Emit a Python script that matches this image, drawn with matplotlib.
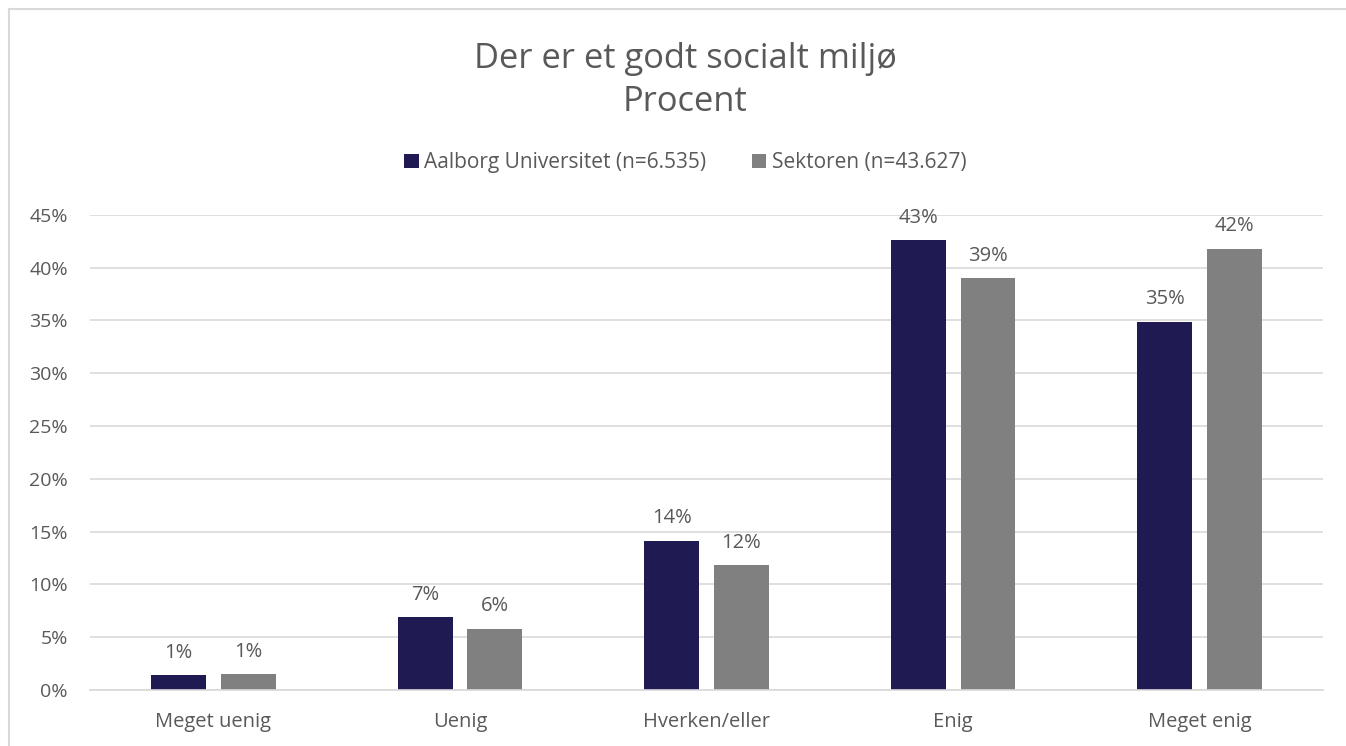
import matplotlib.pyplot as plt
import numpy as np
from matplotlib.lines import Line2D

plt.rcParams['font.family'] = ['Open Sans', 'DejaVu Sans']

categories = ['Meget uenig', 'Uenig', 'Hverken/eller', 'Enig', 'Meget enig']
aau = [1.4, 6.9, 14.1, 42.6, 34.9]
sektor = [1.5, 5.8, 11.8, 39.0, 41.8]
aau_labels = ['1%', '7%', '14%', '43%', '35%']
sektor_labels = ['1%', '6%', '12%', '39%', '42%']
series_names = ['Aalborg Universitet (n=6.535)', 'Sektoren (n=43.627)']

text_col = '#595959'
navy = '#201a52'
grey = '#808080'

fig = plt.figure(figsize=(13.46, 7.46), dpi=100)
ax = fig.add_axes([0.0669, 0.075, 0.916, 0.637])

x = np.arange(len(categories))
w = 0.223
gap = 0.06
b1 = ax.bar(x - (w + gap) / 2, aau, w, color=navy, label=series_names[0])
b2 = ax.bar(x + (w + gap) / 2, sektor, w, color=grey, label=series_names[1])

for bars, labs in [(b1, aau_labels), (b2, sektor_labels)]:
    for rect, lab in zip(bars, labs):
        ax.text(rect.get_x() + rect.get_width() / 2, rect.get_height() + 1.2, lab,
                ha='center', va='bottom', fontsize=14.5, color=text_col)

ax.set_xlim(-0.5, len(categories) - 0.5)
ax.set_ylim(0, 45)
ax.set_yticks(np.arange(0, 46, 5))
ax.set_yticklabels([f'{v}%' for v in range(0, 46, 5)])
ax.set_xticks(x)
ax.set_xticklabels(categories)
ax.tick_params(axis='x', length=0, labelsize=14.5, colors=text_col, pad=16)
ax.tick_params(axis='y', length=0, labelsize=14, colors=text_col, pad=16)
ax.grid(axis='y', color='#d9d9d9', linewidth=1.2)
ax.set_axisbelow(True)
for s in ['top', 'right', 'left']:
    ax.spines[s].set_visible(False)
ax.spines['bottom'].set_color('#d9d9d9')
ax.spines['bottom'].set_linewidth(1.2)

fig.text(0.509, 0.921, 'Der er et godt socialt miljø', ha='center', va='center',
         fontsize=24.8, color=text_col)
fig.text(0.509, 0.863, 'Procent', ha='center', va='center', fontsize=24.8, color=text_col)

fig.legend(handles=[b1, b2], loc='center', bbox_to_anchor=(0.509, 0.782), ncol=2,
           frameon=False, fontsize=15, labelcolor=text_col, handlelength=0.7,
           handleheight=0.7, handletextpad=0.25, columnspacing=2.2)

# chart border (only left and top visible in the crop)
fig.add_artist(Line2D([0.0065, 0.0065], [0, 0.988], transform=fig.transFigure,
                      color='#d9d9d9', linewidth=1.5))
fig.add_artist(Line2D([0.0065, 1], [0.988, 0.988], transform=fig.transFigure,
                      color='#d9d9d9', linewidth=1.5))

fig.savefig('out.png', dpi=100)
